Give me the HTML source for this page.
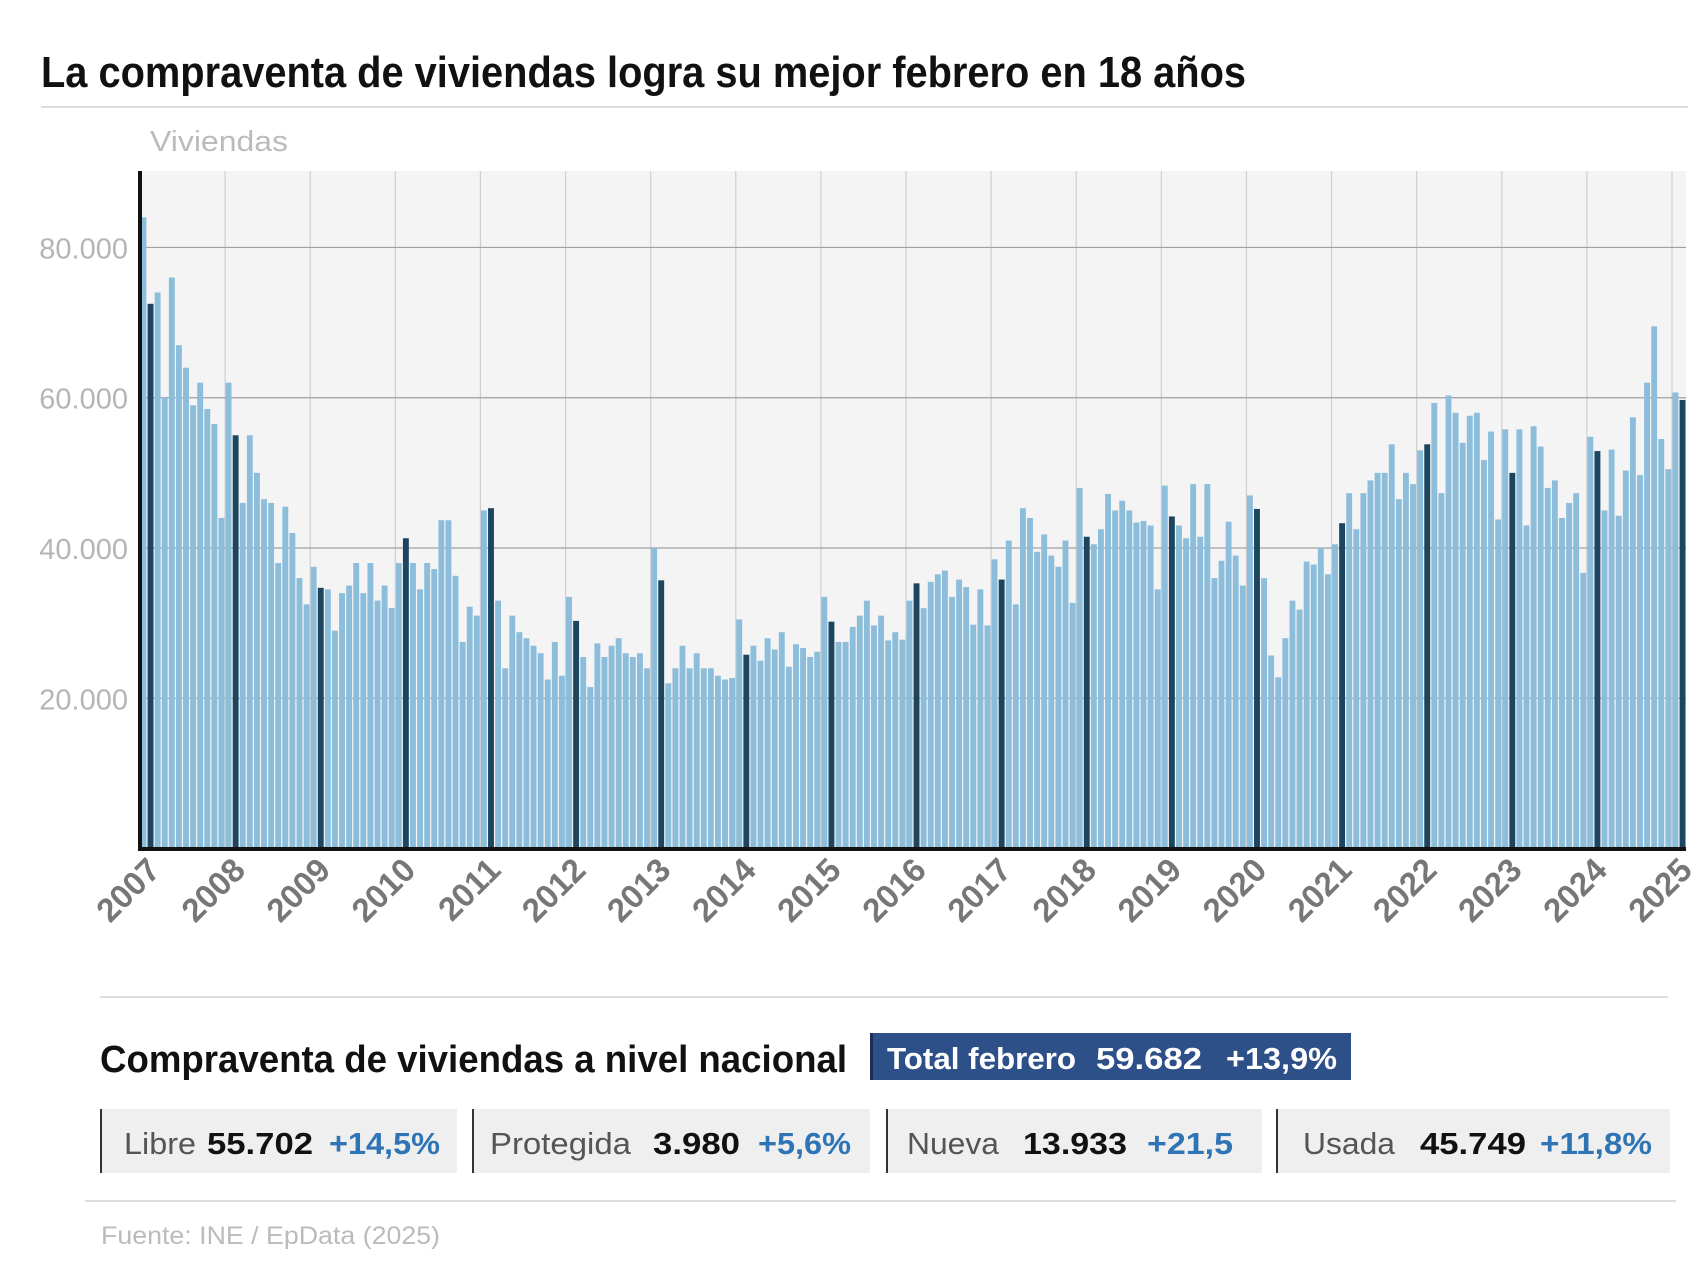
<!DOCTYPE html>
<html><head><meta charset="utf-8"><style>
html,body{margin:0;padding:0;background:#fff;}
svg{display:block;font-family:"Liberation Sans",sans-serif;}
</style></head><body>
<svg id="c" width="1706" height="1277" viewBox="0 0 1706 1277" xmlns="http://www.w3.org/2000/svg">
<text x="41" y="87" font-size="44" font-weight="bold" fill="#111" textLength="1205" lengthAdjust="spacingAndGlyphs">La compraventa de viviendas logra su mejor febrero en 18 años</text>
<line x1="41" y1="107" x2="1688" y2="107" stroke="#ddd" stroke-width="2"/>
<text x="150" y="151" font-size="29" fill="#bbb" textLength="138" lengthAdjust="spacingAndGlyphs">Viviendas</text>
<rect x="140" y="171" width="1546" height="678" fill="#f4f4f4"/>
<g id="grid"></g><g id="bars"></g><g id="axes"></g>
<line x1="100" y1="997" x2="1668" y2="997" stroke="#ddd" stroke-width="2"/>
<text x="100" y="1072" font-size="38" font-weight="bold" fill="#111" textLength="747" lengthAdjust="spacingAndGlyphs">Compraventa de viviendas a nivel nacional</text>
<g>
<rect x="870" y="1033" width="481" height="47" fill="#2e5088"/>
<rect x="870" y="1033" width="3" height="47" fill="#1b2f55"/>
<text x="887" y="1069" font-size="31" font-weight="bold" fill="#fff" textLength="189" lengthAdjust="spacingAndGlyphs">Total febrero</text>
<text x="1096" y="1069" font-size="31" font-weight="bold" fill="#fff" textLength="106" lengthAdjust="spacingAndGlyphs">59.682</text>
<text x="1226" y="1069" font-size="31" font-weight="bold" fill="#fff" textLength="111" lengthAdjust="spacingAndGlyphs">+13,9%</text>
</g>
<g>
<rect x="100" y="1109" width="357" height="64" fill="#efefef"/><rect x="100" y="1109" width="2" height="64" fill="#333"/>
<text x="124" y="1154" font-size="31" fill="#555" textLength="72" lengthAdjust="spacingAndGlyphs">Libre</text>
<text x="207" y="1154" font-size="31" font-weight="bold" fill="#111" textLength="106" lengthAdjust="spacingAndGlyphs">55.702</text>
<text x="329" y="1154" font-size="31" font-weight="bold" fill="#2f74b5" textLength="111" lengthAdjust="spacingAndGlyphs">+14,5%</text>
</g>
<g>
<rect x="472" y="1109" width="398" height="64" fill="#efefef"/><rect x="472" y="1109" width="2" height="64" fill="#333"/>
<text x="490" y="1154" font-size="31" fill="#555" textLength="141" lengthAdjust="spacingAndGlyphs">Protegida</text>
<text x="653" y="1154" font-size="31" font-weight="bold" fill="#111" textLength="87" lengthAdjust="spacingAndGlyphs">3.980</text>
<text x="758" y="1154" font-size="31" font-weight="bold" fill="#2f74b5" textLength="93" lengthAdjust="spacingAndGlyphs">+5,6%</text>
</g>
<g>
<rect x="886" y="1109" width="376" height="64" fill="#efefef"/><rect x="886" y="1109" width="2" height="64" fill="#333"/>
<text x="907" y="1154" font-size="31" fill="#555" textLength="92" lengthAdjust="spacingAndGlyphs">Nueva</text>
<text x="1023" y="1154" font-size="31" font-weight="bold" fill="#111" textLength="104" lengthAdjust="spacingAndGlyphs">13.933</text>
<text x="1147" y="1154" font-size="31" font-weight="bold" fill="#2f74b5" textLength="86" lengthAdjust="spacingAndGlyphs">+21,5</text>
</g>
<g>
<rect x="1276" y="1109" width="394" height="64" fill="#efefef"/><rect x="1276" y="1109" width="2" height="64" fill="#333"/>
<text x="1303" y="1154" font-size="31" fill="#555" textLength="92" lengthAdjust="spacingAndGlyphs">Usada</text>
<text x="1420" y="1154" font-size="31" font-weight="bold" fill="#111" textLength="106" lengthAdjust="spacingAndGlyphs">45.749</text>
<text x="1540" y="1154" font-size="31" font-weight="bold" fill="#2f74b5" textLength="112" lengthAdjust="spacingAndGlyphs">+11,8%</text>
</g>
<line x1="85" y1="1201" x2="1676" y2="1201" stroke="#ddd" stroke-width="2"/>
<text x="101" y="1244" font-size="25" fill="#bbb" textLength="339" lengthAdjust="spacingAndGlyphs">Fuente: INE / EpData (2025)</text>
</svg>
<script>
const years = ["2007","2008","2009","2010","2011","2012","2013","2014","2015","2016","2017","2018","2019","2020","2021","2022","2023","2024","2025"];
const yTicks = [20000,40000,60000,80000];
const yTickLabels = ["20.000","40.000","60.000","80.000"];
const sales = [
84,72.5,74,60,76,67,64,59,62,58.5,56.5,44,
62,55,46,55,50,46.5,46,38,45.5,42,36,32.5,
37.5,34.7,34.5,29,34,35,38,34,38,33,35,32,
38,41.3,38,34.5,38,37.2,43.7,43.7,36.3,27.5,32.2,31,
45,45.3,33,24,31,28.8,28,27,26,22.5,27.5,23,
33.5,30.3,25.5,21.5,27.3,25.5,27,28,26,25.5,26,24,
40,35.7,22,24,27,24,26,24,24,23,22.5,22.7,
30.5,25.8,27,25,28,26.5,28.8,24.2,27.2,26.7,25.5,26.2,
33.5,30.2,27.5,27.5,29.5,31,33,29.7,31,27.7,28.8,27.8,
33,35.3,32,35.5,36.5,37,33.5,35.8,34.8,29.8,34.5,29.7,
38.5,35.8,41,32.5,45.3,44,39.5,41.8,39,37.5,41,32.7,
48,41.5,40.5,42.5,47.2,45,46.3,45,43.4,43.6,43,34.5,
48.3,44.2,43,41.3,48.5,41.5,48.5,36,38.3,43.5,39,35,
47,45.2,36,25.7,22.8,28,33,31.8,38.2,37.8,40,36.5,
40.5,43.3,47.3,42.5,47.3,49,50,50,53.8,46.5,50,48.5,
53,53.8,59.3,47.3,60.3,58,54,57.6,58,51.7,55.5,43.8,
55.8,50,55.8,43,56.2,53.5,48,49,44,46,47.3,36.7,
54.8,52.9,45,53.1,44.3,50.3,57.4,49.7,62,69.5,54.5,50.5,
60.7,59.7
].map(v=>v*1000);

const NS="http://www.w3.org/2000/svg";
const X0=140, X1=1672, Y0=848.6, YTOP=171, YMAX=90170;
const monthW=(X1-X0)/216;
const xScale=i=>X0+i*monthW;
const yScale=v=>Y0-(v/YMAX)*(Y0-YTOP);
function mk(tag,attrs,parent){const e=document.createElementNS(NS,tag);for(const k in attrs)e.setAttribute(k,attrs[k]);parent.appendChild(e);return e;}
const grid=document.getElementById('grid'),bars=document.getElementById('bars'),axes=document.getElementById('axes');
years.forEach((y,k)=>{
  const x=xScale(k*12);
  const l=mk('line',{x1:x,y1:YTOP,x2:x,y2:849,stroke:'#cfcfcf','stroke-width':1.2},grid);
  
  
  const t=mk('text',{x:x+22,y:872,'text-anchor':'end','font-size':33,'font-weight':'bold',fill:'#777',transform:`rotate(-45 ${x+22} 872)`},axes);
  t.textContent=y;
  
  
});
yTicks.forEach((v,k)=>{
  const y=yScale(v);
  const l=mk('line',{x1:X0,y1:y,x2:1686,y2:y,stroke:'#a0a0a0','stroke-width':1.2},grid);
  
  
  const t=mk('text',{x:128,y:y+11,'text-anchor':'end','font-size':29,fill:'#b5b5b5'},axes);
  t.textContent=yTickLabels[k];
  
  
});
sales.forEach((v,i)=>{
  const x=xScale(i), y=yScale(v);
  const feb=(i%12)===1;
  const r=mk('rect',{x:x+0.5,y:y,width:monthW-1.2,height:Y0-y,fill:feb?'#1c4560':'#8cbedc'},bars);
  
  
});
const ax=mk('line',{x1:140,y1:171,x2:140,y2:851,stroke:'#111','stroke-width':4},axes);


const bx=mk('line',{x1:138,y1:849,x2:1686,y2:849,stroke:'#111','stroke-width':4},axes);


</script>
</body></html>
